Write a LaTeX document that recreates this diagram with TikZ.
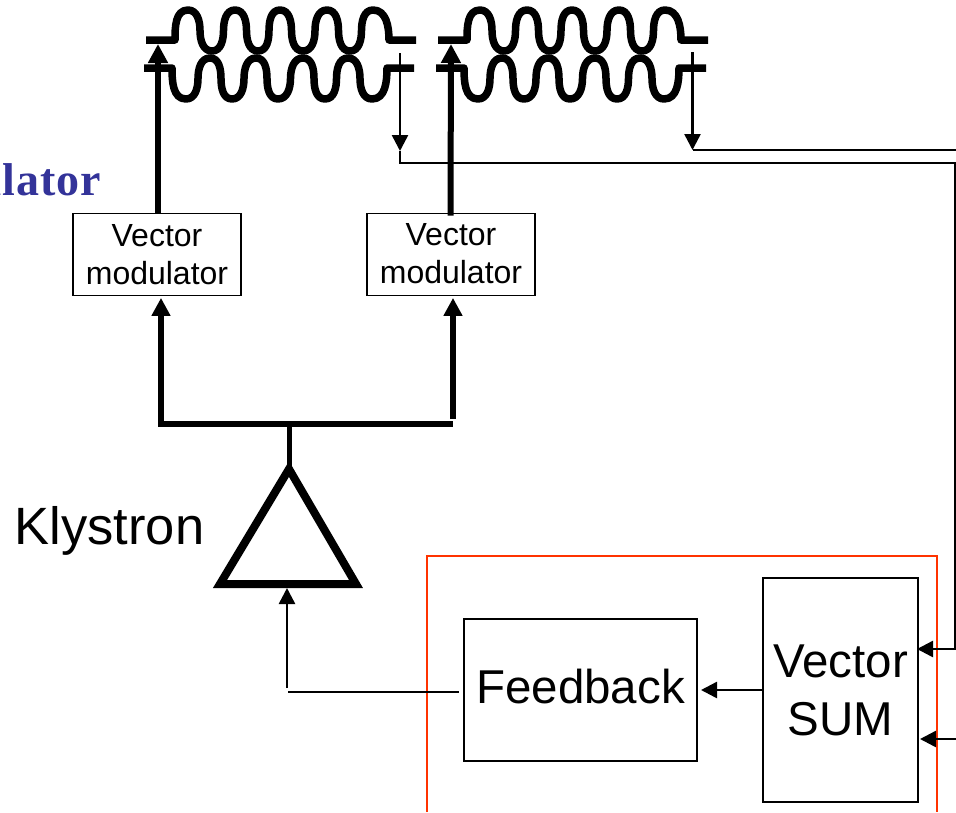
\documentclass[tikz,border=0pt]{standalone}
\usepackage{fontspec}
\setmainfont{Liberation Sans}
\newfontfamily\titlefont[LetterSpace=2]{Liberation Serif}
\usetikzlibrary{arrows.meta}
\definecolor{boxred}{RGB}{255,51,0}
\definecolor{titleblue}{RGB}{51,51,153}
\newcommand{\smalltext}{\fontsize{32}{38}\selectfont}
\newcommand{\bigtext}{\fontsize{47.5}{58}\selectfont}
\tikzset{
  smallbox/.style={draw,line width=1.8pt,minimum width=168pt,minimum height=82pt,inner sep=0pt,align=center,font=\smalltext},
  bigbox/.style={draw,line width=2pt,inner sep=0pt,align=center,font=\bigtext},
  power/.style={line width=6pt,-{Triangle[length=19pt,width=19pt]}},
  signal/.style={line width=2.5pt,-{Triangle[length=16pt,width=16pt]}},
  cavityline/.style={line width=7.5pt,line join=round}
}
\begin{document}
\begin{tikzpicture}[x=1pt,y=-1pt]
    \useasboundingbox (0,0) rectangle (956,812);
    \foreach \cx in {0,292} {
      \draw[cavityline,shift={(\cx,0)}] (146,40) -- (175,40) to[out=90,in=180] (188,10)
        \foreach \xa/\ya/\xb/\yb in {200/-90/212/51,223.5/90/235/10,246.5/-90/258/51,269/90/280/10,291.5/-90/303/51,315/90/327/10,338.5/-90/350/51,361.5/90/373/10} {
          to[out=0,in=-\ya] (\xa,30.5) to[out=\ya,in=180] (\xb,\yb)}
        to[out=0,in=90] (389,40) -- (416,40);
      \draw[cavityline,shift={(\cx,0)}] (144,68) -- (172,68) to[out=-90,in=180] (186,99)
        \foreach \xa/\ya/\xb/\yb in {198/90/210/58,221/-90/232/99,244/90/256/58,267/-90/278/99,290.5/90/303/58,314/-90/325/99,336.5/90/348/58,360/-90/372/99} {
          to[out=0,in=-\ya] (\xa,78.5) to[out=\ya,in=180] (\xb,\yb)}
        to[out=0,in=-90] (387,68) -- (414,68);
    }
    \node[anchor=base east,inner sep=0pt,text=titleblue,font=\titlefont\bfseries\fontsize{46}{50}\selectfont] (title) at (101,195) {ulator};
    \node[smallbox] (vma) at (157,254.5) {Vector\\modulator};
    \node[smallbox,text depth=3pt] (vmb) at (451,254.5) {Vector\\modulator};
    \node[anchor=base west,inner sep=0pt,font=\fontsize{52.5}{60}\selectfont] (klystron) at (14.5,544) {Klystron};
    \node[bigbox,minimum width=233pt,minimum height=142pt,text depth=8pt] (feedback) at (580.5,690) {Feedback};
    \node[bigbox,minimum width=155pt,minimum height=224pt] (vsum) at (840.5,690) {Vector\\SUM};
    \draw[boxred,line width=2.5pt] (427,812) -- (427,556) -- (937,556) -- (937,812);
    \coordinate (cava) at (158,44);
    \coordinate (cavb) at (451,44);
    \coordinate (outa) at (400,53);
    \coordinate (tapa) at (400,151);
    \coordinate (outb) at (692.5,52);
    \coordinate (tapb) at (692.5,150);
    \coordinate (bus) at (955.5,163);
    \coordinate (suma) at (917,649);
    \coordinate (sumb) at (920,739);
    \coordinate (edgea) at (956,150);
    \coordinate (edgeb) at (956,739);
    \coordinate (split) at (289,424);
    \coordinate (splitl) at (161,424);
    \coordinate (splitr) at (453,424);
    \coordinate (topk) at (289,469);
    \coordinate (leftk) at (220,584);
    \coordinate (rightk) at (356,584);
    \coordinate (ink) at (287,588);
    \coordinate (turnk) at (287,688);
    \coordinate (backk) at (288,692);
    \draw[power] ([xshift=1pt]vma.north) -- (cava);
    \draw[power] ([xshift=-.5pt,yshift=-3pt]vmb.north) -- (cavb);
    \draw[signal] (outa) -- (tapa);
    \draw[signal] (outb) -- (tapb);
    \draw[line width=2.5pt] (tapb) -- (edgea);
    \draw[signal] (tapa) |- (bus) -- (bus |- suma) -- (suma);
    \draw[signal] (edgeb) -- (sumb);
    \draw[signal] (vsum.west) -- ([xshift=3pt]feedback.east);
    \draw[line width=5.5pt,-{Triangle[length=18pt,width=18pt]}] (splitl) -- ([yshift=-1.5pt]vma.south -| splitl);
    \draw[line width=6pt,-{Triangle[length=18pt,width=18pt]}] ([yshift=5pt]splitr) -- ([yshift=-1.5pt]vmb.south -| splitr);
    \draw[line width=6pt] ([xshift=-3pt]splitl) -- (splitr);
    \draw[line width=5pt] (split) -- (topk);
    \draw[line width=8pt,line join=miter] (topk) -- (leftk) -- (rightk) -- cycle;
    \draw[signal] (turnk) -- (ink);
    \draw[line width=2.5pt] (backk) -- ([xshift=-4pt,yshift=-2pt]feedback.west);
  \end{tikzpicture}
\end{document}
